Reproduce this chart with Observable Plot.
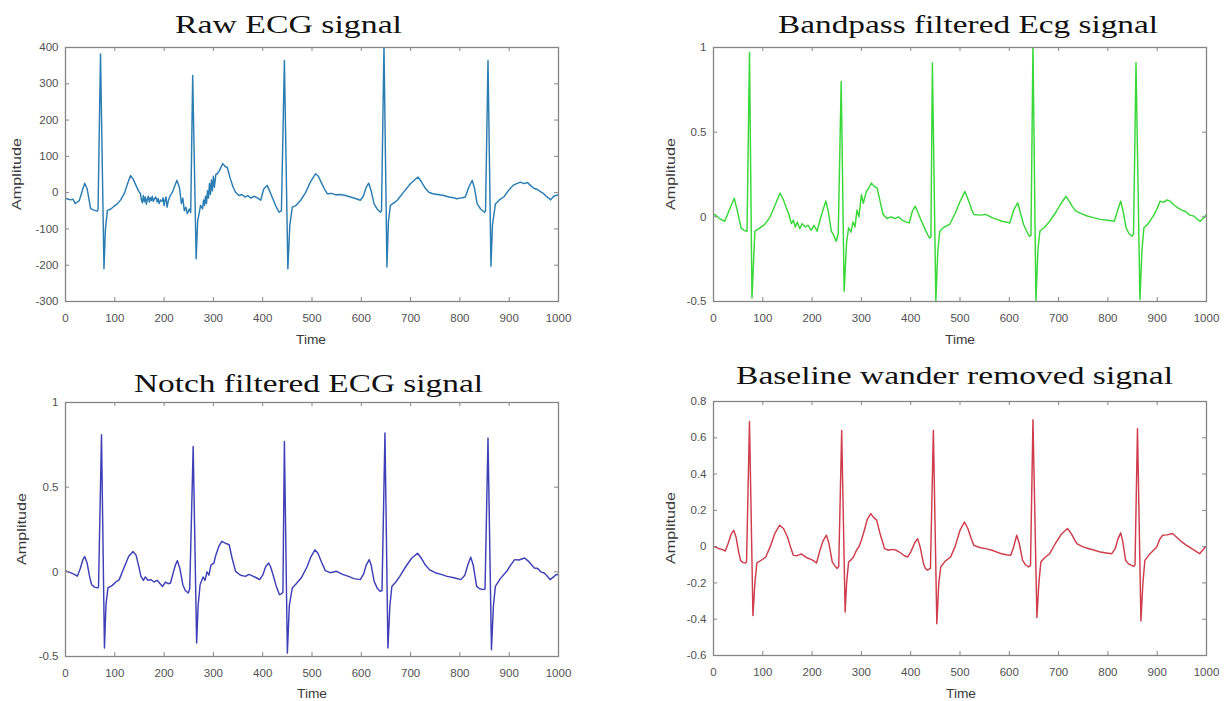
<!DOCTYPE html>
<html><head><meta charset="utf-8">
<script src="https://cdn.jsdelivr.net/npm/d3@7"></script>
<script src="https://cdn.jsdelivr.net/npm/@observablehq/plot@0.6"></script>
<style>
body{margin:0;background:#fff;}
#root{position:relative;width:1229px;height:701px;overflow:hidden;background:#fff;}
.panel{position:absolute;}
#overlay{position:absolute;left:0;top:0;pointer-events:none;}
</style></head><body><div id="root"></div>
<script>
// ---- data: [time, amplitude] ----
const rawSignal = [[0,-15],[3,-17],[10,-20],[15,-18],[20,-30],[28,-22],[34,5],[39,26],[44,10],[51,-44],[58,-48],[64,-51],[66,-48],[71,382],[78,-210],[81,-100],[85,-49],[92,-45],[98,-38],[105,-31],[112,-20],[120,0],[126,25],[132,47],[137,38],[143,20],[148,5],[152,-3],[154,-20],[156,-28],[158,-8],[160,-25],[162,-12],[164,-32],[166,-18],[168,-10],[170,-26],[172,-14],[174,-22],[176,-10],[178,-24],[180,-18],[183,-12],[186,-26],[188,-16],[190,-30],[193,-20],[196,-24],[198,-14],[200,-36],[202,-20],[204,-12],[206,-40],[209,-20],[212,-10],[218,5],[226,34],[231,15],[235,-30],[238,-15],[241,-50],[244,-40],[247,-58],[251,-45],[254,-55],[258,323],[265,-182],[268,-80],[274,-35],[278,-45],[280,-20],[282,-35],[284,-10],[286,-30],[288,5],[290,-15],[292,25],[294,-5],[296,35],[298,5],[300,45],[302,15],[305,50],[308,52],[312,60],[319,80],[324,72],[328,70],[334,40],[340,15],[345,1],[352,-8],[358,-5],[364,-12],[370,-8],[376,-15],[382,-10],[390,-15],[396,-21],[402,10],[409,20],[414,5],[419,-12],[426,-35],[433,-54],[438,-50],[444,364],[451,-210],[455,-90],[460,-40],[468,-35],[477,-21],[487,0],[497,30],[507,52],[513,45],[520,25],[526,8],[531,-3],[540,-2],[548,-6],[558,-5],[568,-8],[578,-12],[588,-16],[598,-21],[604,-10],[610,15],[615,26],[620,5],[626,-31],[632,-45],[639,-54],[641,-50],[646,405],[652,-205],[655,-80],[659,-35],[666,-28],[673,-21],[685,0],[700,25],[715,43],[722,30],[730,12],[737,1],[745,-3],[755,-5],[767,-8],[778,-12],[787,-14],[794,-17],[800,-15],[805,-14],[811,-12],[818,15],[825,34],[830,10],[835,-31],[842,-45],[850,-54],[852,-50],[857,364],[863,-203],[866,-90],[872,-31],[880,-20],[889,-12],[898,5],[908,20],[915,25],[923,29],[930,25],[937,28],[943,20],[950,12],[958,8],[964,2],[970,-3],[975,-10],[980,-15],[984,-20],[990,-10],[995,-8],[1000,-5]];

const bandpassSignal = [[0,0.01],[3,0.014],[12,-0.01],[23,-0.026],[32,0.04],[42,0.11],[48,0.04],[56,-0.065],[62,-0.08],[68,-0.085],[73,0.97],[78,-0.48],[84,-0.085],[92,-0.07],[104,-0.045],[115,0.0],[125,0.07],[135,0.14],[142,0.1],[148,0.05],[153,0.014],[158,-0.04],[162,-0.02],[166,-0.06],[170,-0.03],[175,-0.07],[180,-0.04],[186,-0.06],[192,-0.05],[198,-0.08],[204,-0.05],[210,-0.085],[216,-0.02],[222,0.04],[228,0.093],[233,0.03],[239,-0.085],[244,-0.11],[249,-0.144],[253,-0.1],[259,0.80],[265,-0.44],[270,-0.15],[274,-0.065],[279,-0.09],[283,-0.03],[287,-0.06],[291,0.04],[295,0.0],[300,0.13],[304,0.08],[310,0.15],[315,0.17],[320,0.20],[326,0.18],[332,0.17],[338,0.09],[344,0.014],[352,-0.01],[360,0.0],[368,-0.01],[375,0.0],[383,-0.02],[390,-0.03],[397,-0.036],[403,0.03],[409,0.063],[414,0.03],[422,-0.026],[430,-0.08],[438,-0.125],[441,-0.12],[444,0.91],[451,-0.50],[455,-0.2],[459,-0.085],[468,-0.06],[479,-0.045],[490,0.02],[500,0.09],[510,0.15],[518,0.09],[524,0.04],[528,0.014],[540,0.01],[552,0.014],[565,-0.005],[575,-0.015],[585,-0.026],[593,-0.03],[601,-0.036],[609,0.04],[617,0.083],[622,0.03],[629,-0.045],[636,-0.09],[641,-0.115],[644,-0.11],[648,1.02],[654,-0.50],[658,-0.2],[662,-0.085],[672,-0.06],[682,-0.026],[695,0.03],[705,0.08],[715,0.12],[722,0.09],[728,0.06],[735,0.034],[745,0.02],[758,0.005],[772,-0.006],[785,-0.015],[800,-0.02],[813,-0.026],[820,0.04],[826,0.093],[831,0.03],[837,-0.065],[843,-0.1],[849,-0.115],[852,-0.1],[857,0.91],[865,-0.49],[869,-0.2],[873,-0.065],[882,-0.04],[894,0.014],[900,0.05],[906,0.093],[913,0.085],[920,0.1],[926,0.093],[934,0.07],[942,0.053],[950,0.04],[958,0.03],[966,0.01],[975,0.004],[981,-0.015],[987,-0.026],[993,-0.01],[1000,0.014]];

const notchSignal = [[0,0.005],[3,0.003],[10,-0.005],[18,-0.015],[24,-0.026],[30,0.02],[35,0.07],[39,0.09],[44,0.05],[49,-0.03],[53,-0.076],[59,-0.09],[65,-0.095],[67,-0.09],[73,0.81],[79,-0.45],[82,-0.2],[86,-0.095],[95,-0.08],[102,-0.06],[109,-0.046],[118,0.02],[128,0.09],[137,0.12],[143,0.1],[148,0.04],[153,-0.027],[158,-0.05],[162,-0.03],[167,-0.05],[173,-0.046],[180,-0.06],[186,-0.05],[192,-0.07],[197,-0.086],[203,-0.06],[208,-0.07],[213,-0.066],[219,0.0],[223,0.04],[227,0.066],[232,0.02],[238,-0.076],[243,-0.11],[249,-0.125],[252,-0.1],[259,0.74],[266,-0.42],[269,-0.2],[273,-0.076],[279,-0.03],[283,-0.05],[287,0.0],[291,-0.02],[295,0.04],[301,0.052],[305,0.1],[311,0.15],[317,0.18],[324,0.17],[332,0.16],[338,0.08],[345,0.003],[355,-0.02],[365,-0.027],[372,-0.015],[380,-0.025],[387,-0.035],[394,-0.046],[400,-0.02],[406,0.03],[412,0.052],[416,0.03],[421,-0.017],[427,-0.08],[434,-0.135],[438,-0.13],[441,-0.12],[444,0.77],[450,-0.48],[454,-0.2],[460,-0.095],[468,-0.07],[478,-0.037],[490,0.03],[498,0.09],[506,0.13],[512,0.11],[519,0.06],[527,0.007],[537,-0.005],[550,0.003],[562,-0.015],[574,-0.027],[585,-0.04],[598,-0.046],[605,-0.01],[610,0.04],[616,0.072],[620,0.04],[626,-0.056],[632,-0.095],[638,-0.115],[642,-0.11],[648,0.82],[654,-0.45],[658,-0.2],[662,-0.086],[670,-0.06],[678,-0.027],[690,0.03],[702,0.08],[714,0.11],[722,0.08],[730,0.04],[738,0.013],[750,-0.005],[762,-0.015],[774,-0.027],[788,-0.035],[802,-0.046],[810,-0.02],[816,0.04],[822,0.086],[827,0.04],[834,-0.086],[840,-0.1],[848,-0.105],[851,-0.1],[857,0.79],[864,-0.46],[868,-0.2],[872,-0.086],[882,-0.04],[895,0.003],[903,0.04],[911,0.072],[920,0.07],[931,0.082],[940,0.06],[951,0.023],[958,0.02],[964,0.0],[971,-0.007],[977,-0.025],[983,-0.046],[990,-0.03],[995,-0.017],[1000,-0.015]];

const baselineSignal = [[0,0.0],[2,0.0],[10,-0.01],[17,-0.015],[24,-0.024],[30,0.02],[36,0.07],[41,0.09],[46,0.05],[51,-0.03],[55,-0.076],[60,-0.088],[65,-0.09],[67,-0.085],[73,0.69],[80,-0.38],[84,-0.2],[88,-0.09],[97,-0.075],[106,-0.057],[115,0.0],[124,0.07],[134,0.118],[142,0.1],[150,0.053],[156,0.0],[162,-0.048],[170,-0.05],[178,-0.04],[189,-0.061],[198,-0.07],[204,-0.08],[209,-0.09],[216,-0.02],[222,0.03],[229,0.063],[234,0.02],[241,-0.085],[246,-0.105],[251,-0.12],[254,-0.11],[260,0.64],[267,-0.36],[270,-0.2],[274,-0.085],[280,-0.07],[284,-0.057],[290,-0.02],[295,0.0],[300,0.035],[306,0.09],[312,0.15],[319,0.182],[325,0.16],[331,0.146],[338,0.07],[347,-0.011],[355,-0.02],[362,-0.015],[371,-0.02],[380,-0.035],[387,-0.05],[394,-0.057],[400,-0.03],[408,0.02],[414,0.044],[419,0.0],[426,-0.094],[430,-0.12],[434,-0.13],[440,-0.12],[446,0.64],[453,-0.425],[457,-0.2],[461,-0.112],[470,-0.08],[481,-0.057],[490,0.0],[500,0.09],[509,0.136],[516,0.1],[522,0.05],[528,0.007],[540,-0.005],[552,-0.011],[565,-0.02],[575,-0.03],[584,-0.039],[594,-0.045],[603,-0.048],[609,0.0],[615,0.063],[620,0.02],[627,-0.076],[633,-0.1],[639,-0.112],[643,-0.105],[648,0.70],[656,-0.39],[660,-0.2],[664,-0.085],[672,-0.06],[682,-0.039],[694,0.02],[706,0.07],[718,0.1],[726,0.07],[732,0.04],[737,0.017],[748,0.0],[760,-0.01],[773,-0.02],[785,-0.03],[797,-0.035],[808,-0.039],[815,-0.01],[820,0.04],[826,0.076],[830,0.03],[836,-0.076],[842,-0.095],[852,-0.109],[855,-0.1],[860,0.65],[867,-0.41],[871,-0.2],[875,-0.076],[885,-0.04],[899,-0.002],[905,0.04],[911,0.063],[920,0.065],[931,0.072],[940,0.05],[950,0.026],[958,0.01],[964,0.0],[970,-0.011],[978,-0.025],[986,-0.039],[992,-0.02],[998,0.0],[1000,0.0]];

const timeTicks = [0,100,200,300,400,500,600,700,800,900,1000];
const rawTicks = [-300,-200,-100,0,100,200,300,400];
const bandpassTicks = [-0.5,0,0.5,1];
const notchTicks = [-0.5,0,0.5,1];
const baselineTicks = [-0.6,-0.4,-0.2,0,0.2,0.4,0.6,0.8];

const titles = ["Raw ECG signal","Bandpass filtered Ecg signal","Notch filtered ECG signal","Baseline wander removed signal"];
const xLabel = "Time";
const yLabel = "Amplitude";

// ---- layout ----
const FW = 493, FH = 254;          // frame size
const mL = 60, mR = 20, mT = 10, mB = 30;
const frameGray = "#858585";

const panels = [
  {data: rawSignal, domain: [-300,400], ticks: rawTicks, color: "#2a7db3", fx: 65, fy: 47,
   title: titles[0], tx: 175, ty: 33, tw: 227, ax: 17, tlx: 311, tly: 344},
  {data: bandpassSignal, domain: [-0.5,1], ticks: bandpassTicks, color: "#38d838", fx: 713, fy: 47,
   title: titles[1], tx: 778, ty: 33, tw: 380, ax: 671, tlx: 960, tly: 344},
  {data: notchSignal, domain: [-0.5,1], ticks: notchTicks, color: "#3f3fb8", fx: 65, fy: 402,
   title: titles[2], tx: 134, ty: 392, tw: 349, ax: 22, tlx: 312, tly: 698},
  {data: baselineSignal, domain: [-0.6,0.8], ticks: baselineTicks, color: "#cf3c4c", fx: 713, fy: 401,
   title: titles[3], tx: 736, ty: 384, tw: 437, ax: 671, tlx: 961, tly: 698}
];

const root = document.getElementById("root");

for (const p of panels) {
  const chart = Plot.plot({
    width: FW + mL + mR,
    height: FH + mT + mB,
    marginLeft: mL, marginRight: mR, marginTop: mT, marginBottom: mB,
    style: {fontFamily: "'Liberation Sans', Arial, sans-serif", fontSize: "11.5px", color: "#505050", background: "transparent", overflow: "visible"},
    x: {domain: [0, 1000]},
    y: {domain: p.domain},
    marks: [
      Plot.line(p.data, {x: d => d[0], y: d => d[1], stroke: p.color, strokeWidth: 1.45, clip: true}),
      Plot.tickX(timeTicks, {x: d => d, insetTop: FH - 4, stroke: frameGray}),
      Plot.tickX(timeTicks, {x: d => d, insetBottom: FH - 4, stroke: frameGray}),
      Plot.tickY(p.ticks, {y: d => d, insetRight: FW - 4, stroke: frameGray}),
      Plot.tickY(p.ticks, {y: d => d, insetLeft: FW - 4, stroke: frameGray}),
      Plot.frame({stroke: frameGray, strokeWidth: 1.3}),
      Plot.axisX({ticks: timeTicks, tickSize: 0, tickPadding: 12, tickFormat: d => String(d), label: null}),
      Plot.axisY({ticks: p.ticks, tickSize: 0, tickPadding: 7, tickFormat: d => String(d), label: null})
    ]
  });
  const div = document.createElement("div");
  div.className = "panel";
  div.style.left = (p.fx - mL) + "px";
  div.style.top = (p.fy - mT) + "px";
  div.appendChild(chart);
  root.appendChild(div);
}

// ---- titles and axis labels ----
const svg = d3.select(root).append("svg").attr("id", "overlay").attr("width", 1229).attr("height", 701);
for (const p of panels) {
  svg.append("text").text(p.title)
    .attr("x", p.tx).attr("y", p.ty)
    .attr("textLength", p.tw).attr("lengthAdjust", "spacingAndGlyphs")
    .attr("font-family", "'Liberation Serif', 'Times New Roman', serif")
    .attr("font-size", 26).attr("fill", "#111");
  svg.append("text").text(xLabel)
    .attr("x", p.tlx - 15).attr("y", p.tly)
    .attr("textLength", 30).attr("lengthAdjust", "spacingAndGlyphs")
    .attr("font-family", "'Liberation Sans', Arial, sans-serif")
    .attr("font-size", 13).attr("fill", "#3a3a3a");
  const cy = p.fy + FH / 2;
  svg.append("text").text(yLabel)
    .attr("transform", `translate(${p.ax},${cy}) rotate(-90)`)
    .attr("x", -36).attr("y", 0).attr("dy", "0.35em")
    .attr("textLength", 72).attr("lengthAdjust", "spacingAndGlyphs")
    .attr("font-family", "'Liberation Sans', Arial, sans-serif")
    .attr("font-size", 12.5).attr("fill", "#3a3a3a");
}
</script>
</body></html>
